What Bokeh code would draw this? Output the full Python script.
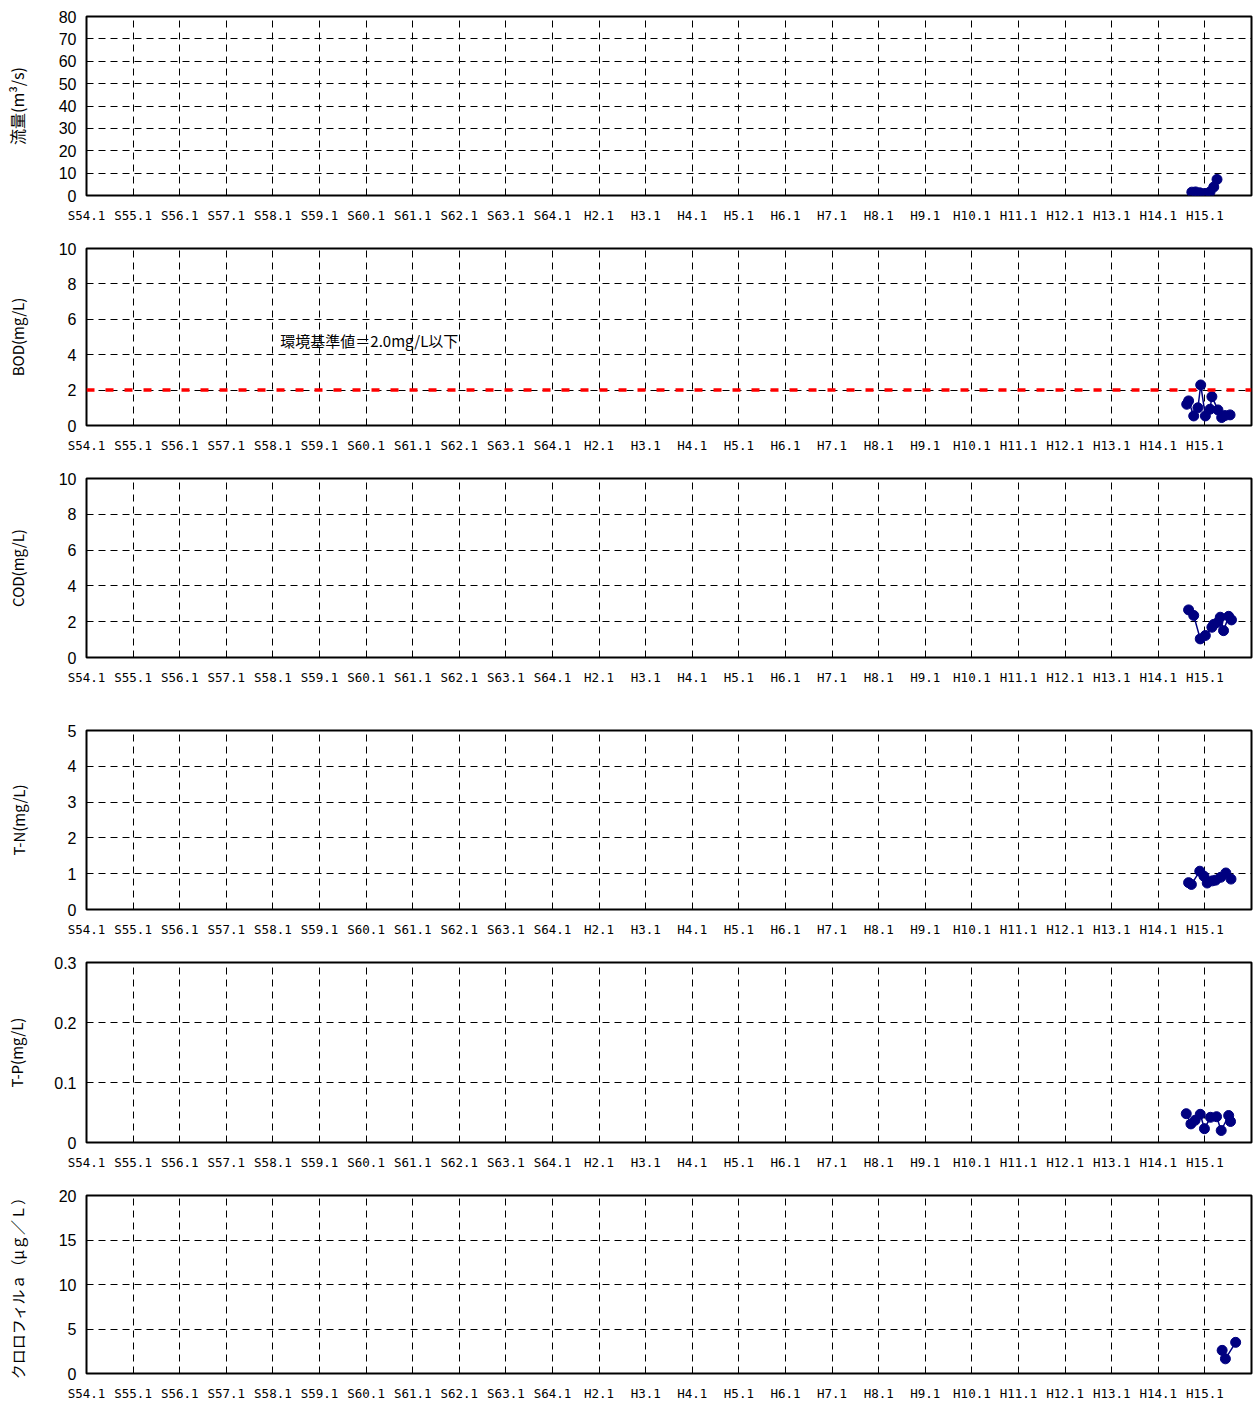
from bokeh.plotting import figure
from bokeh.layouts import column
from bokeh.models import FixedTicker, Span, Label
from bokeh.embed import file_html
from bokeh.resources import INLINE

# ---- x axis (calendar years; labels in Japanese era notation) ----
year_ticks = list(range(1979, 2004))
year_labels = ["S54.1", "S55.1", "S56.1", "S57.1", "S58.1", "S59.1", "S60.1", "S61.1",
               "S62.1", "S63.1", "S64.1", "H2.1", "H3.1", "H4.1", "H5.1", "H6.1",
               "H7.1", "H8.1", "H9.1", "H10.1", "H11.1", "H12.1", "H13.1", "H14.1", "H15.1"]

# ---- series (decimal year, value) ----
flow_t = [2002.72, 2002.80, 2002.89, 2003.00, 2003.11, 2003.19, 2003.26]
flow_v = [1.5, 1.6, 1.2, 0.9, 1.6, 3.8, 7.2]

bod_t = [2002.61, 2002.65, 2002.76, 2002.85, 2002.91, 2003.01, 2003.11, 2003.15,
         2003.28, 2003.36, 2003.43, 2003.54]
bod_v = [1.2, 1.39, 0.54, 1.0, 2.29, 0.54, 0.92, 1.63, 0.88, 0.45, 0.56, 0.6]

cod_t = [2002.65, 2002.76, 2002.90, 2003.01, 2003.15, 2003.19, 2003.28, 2003.33,
         2003.40, 2003.51, 2003.57]
cod_v = [2.66, 2.35, 1.04, 1.23, 1.69, 1.85, 1.97, 2.25, 1.5, 2.3, 2.1]

tn_t = [2002.65, 2002.71, 2002.89, 2002.98, 2003.05, 2003.16, 2003.23, 2003.34,
        2003.45, 2003.56]
tn_v = [0.75, 0.70, 1.07, 0.93, 0.74, 0.80, 0.82, 0.90, 1.02, 0.85]

tp_t = [2002.60, 2002.70, 2002.79, 2002.90, 2002.99, 2003.12, 2003.25, 2003.35,
        2003.51, 2003.55]
tp_v = [0.048, 0.031, 0.037, 0.047, 0.023, 0.042, 0.043, 0.020, 0.045, 0.035]

chl_t = [2003.37, 2003.44, 2003.66]
chl_v = [2.6, 1.65, 3.5]

bod_standard = 2.0
bod_note = "環境基準値＝2.0mg/L以下"

NAVY = "#000080"
MONO = "DejaVu Sans Mono"
SANS = "Liberation Sans"
CJK = "Noto Sans CJK JP"


def panel(ylabel, ymax, yticks, ylab_over, t, v, top, fh, bottom, label_standoff, lab_size="15px"):
    p = figure(frame_width=1165, frame_height=fh, min_border_left=86, min_border_right=5,
               min_border_top=top, min_border_bottom=bottom,
               x_range=(1979, 2004), y_range=(0, ymax),
               output_backend="svg", toolbar_location=None)
    p.outline_line_color = "black"
    p.outline_line_width = 2
    p.background_fill_color = "white"
    p.border_fill_color = "white"

    p.xaxis.ticker = FixedTicker(ticks=year_ticks)
    p.xaxis.major_label_overrides = dict(zip(year_ticks, year_labels))
    p.yaxis.ticker = FixedTicker(ticks=yticks)
    if ylab_over:
        p.yaxis.major_label_overrides = ylab_over
    for ax in (p.xaxis[0], p.yaxis[0]):
        ax.axis_line_color = None
        ax.major_tick_line_color = None
        ax.minor_tick_line_color = None
        ax.major_tick_out = 0
        ax.major_tick_in = 0
    p.xaxis.major_label_standoff = 12
    p.xaxis.major_label_text_font = MONO
    p.xaxis.major_label_text_font_size = "12.5px"
    p.xaxis.major_label_text_color = "black"
    p.yaxis.major_label_standoff = 10
    p.yaxis.major_label_text_font = SANS
    p.yaxis.major_label_text_font_size = "16px"
    p.yaxis.major_label_text_color = "black"
    p.yaxis.axis_label = ylabel
    p.yaxis.axis_label_text_font = CJK
    p.yaxis.axis_label_text_font_style = "normal"
    p.yaxis.axis_label_text_font_size = lab_size
    p.yaxis.axis_label_text_color = "black"
    p.yaxis.axis_label_standoff = label_standoff

    for g in (p.xgrid[0], p.ygrid[0]):
        g.grid_line_color = "black"
        g.grid_line_dash = "7 5"
        g.grid_line_width = 1
    p.xgrid.ticker = FixedTicker(ticks=year_ticks)
    p.ygrid.ticker = FixedTicker(ticks=yticks)

    p.line(t, v, line_color=NAVY, line_width=1.5)
    p.scatter(t, v, size=10, fill_color=NAVY, line_color=NAVY)
    return p


p1 = panel("流量(m³/s)", 80, list(range(0, 81, 10)), None, flow_t, flow_v, 16, 179, 43, 27, "16px")
p2 = panel("BOD(mg/L)", 10, [0, 2, 4, 6, 8, 10], None, bod_t, bod_v, 10, 177, 43, 28)
p2.add_layout(Span(location=bod_standard, dimension="width", line_color="red",
                   line_width=3.5, line_dash="8 11"))
p2.add_layout(Label(x=1983.16, y=4.8, text=bod_note, text_font=CJK, text_font_size="15px",
                    text_color="black", text_baseline="middle", text_align="left"))
p3 = panel("COD(mg/L)", 10, [0, 2, 4, 6, 8, 10], None, cod_t, cod_v, 10, 179, 63, 28)
p4 = panel("T-N(mg/L)", 5, [0, 1, 2, 3, 4, 5], None, tn_t, tn_v, 10, 179, 43, 36)
p5 = panel("T-P(mg/L)", 0.3, [0, 0.1, 0.2, 0.3], {0: "0", 0.1: "0.1", 0.2: "0.2", 0.3: "0.3"},
           tp_t, tp_v, 10, 180, 43, 24)
p6 = panel("クロロフィルａ（μｇ／Ｌ）", 20, [0, 5, 10, 15, 20], None, chl_t, chl_v, 10, 178, 30, 28)

layout = column(p1, p2, p3, p4, p5, p6, spacing=0)
open("out.html", "w").write(file_html(layout, INLINE))
